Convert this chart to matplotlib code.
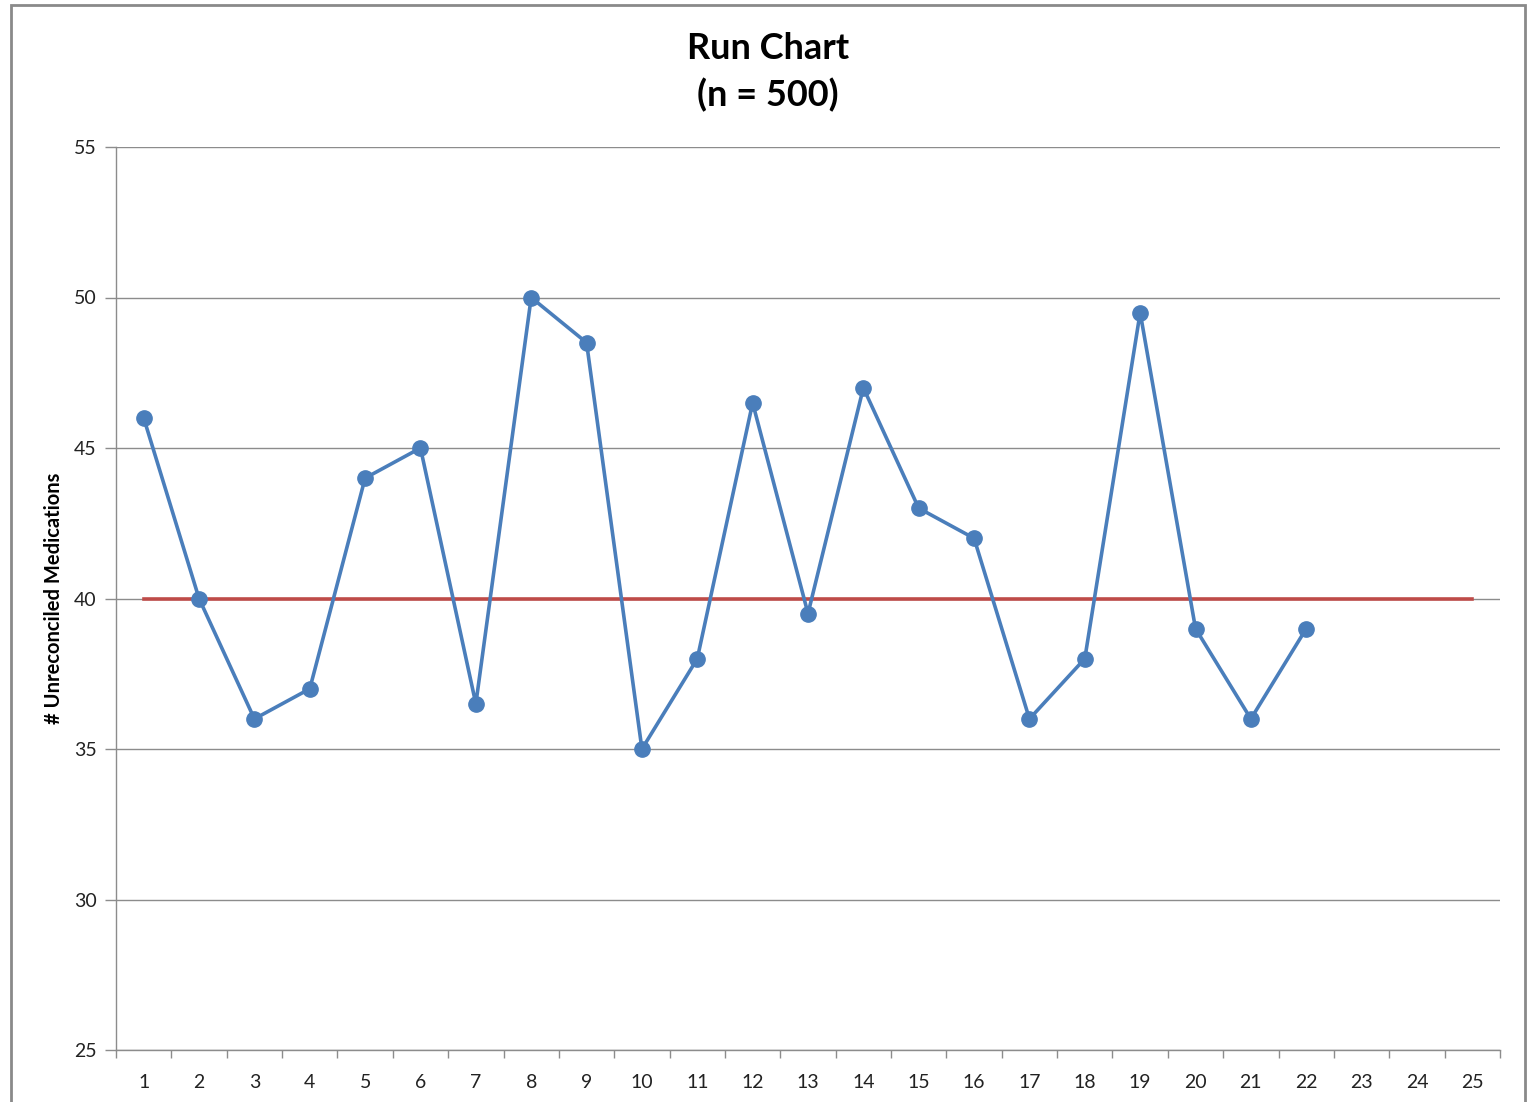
import matplotlib.pyplot as plt
from matplotlib.patches import Rectangle
import numpy as np

plt.rcParams['font.family'] = ['Lato', 'DejaVu Sans']

# run chart data
samples = list(range(1, 26))
values = [46, 40, 36, 37, 44, 45, 36.5, 50, 48.5, 35, 38, 46.5, 39.5, 47, 43, 42, 36, 38, 49.5, 39, 36, 39]
median = 40
y_ticks = [25, 30, 35, 40, 45, 50, 55]

blue = '#4A7EBB'
red = '#BE4B48'
grid_col = '#8C8C8C'

fig = plt.figure(figsize=(15.34, 11.02), dpi=100)
ax = fig.add_axes([116 / 1534, 52 / 1102, 1384 / 1534, 903 / 1102])

# outer chart border
fig.patches.append(Rectangle((11 / 1534, -0.05), 1514 / 1534, (1097 / 1102) + 0.05,
                             transform=fig.transFigure, fill=False,
                             edgecolor='#8A8A8A', linewidth=2))

ax.plot([samples[0], samples[-1]], [median, median], color=red, linewidth=2.6, zorder=2)
x = samples[:len(values)]
ax.plot(x, values, color=blue, linewidth=2.6, marker='o', markersize=11, zorder=3)

ax.set_xlim(0.5, 25.5)
ax.set_ylim(25, 55)
ax.set_yticks(y_ticks)
ax.set_xticks(samples)
ax.set_xticks(np.arange(0.5, 26, 1), minor=True)
ax.tick_params(axis='x', which='major', length=0, labelsize=14, colors='#222222', pad=17)
ax.tick_params(axis='x', which='minor', length=6, color=grid_col, width=1)
ax.tick_params(axis='y', length=8, color=grid_col, width=1, labelsize=14, labelcolor='#222222', pad=6)
ax.grid(axis='y', color=grid_col, linewidth=1)
ax.set_axisbelow(True)

for s in ['top', 'right']:
    ax.spines[s].set_visible(False)
for s in ['left', 'bottom']:
    ax.spines[s].set_color(grid_col)
    ax.spines[s].set_linewidth(1)

ax.set_ylabel('# Unreconciled Medications', fontsize=14.5, fontweight='bold', labelpad=7)
fig.text(768 / 1534, 1 - 72 / 1102, 'Run Chart\n(n = 500)', ha='center', va='center',
         fontsize=26, fontweight='bold', linespacing=1.45)

fig.savefig('out.png', dpi=100)
